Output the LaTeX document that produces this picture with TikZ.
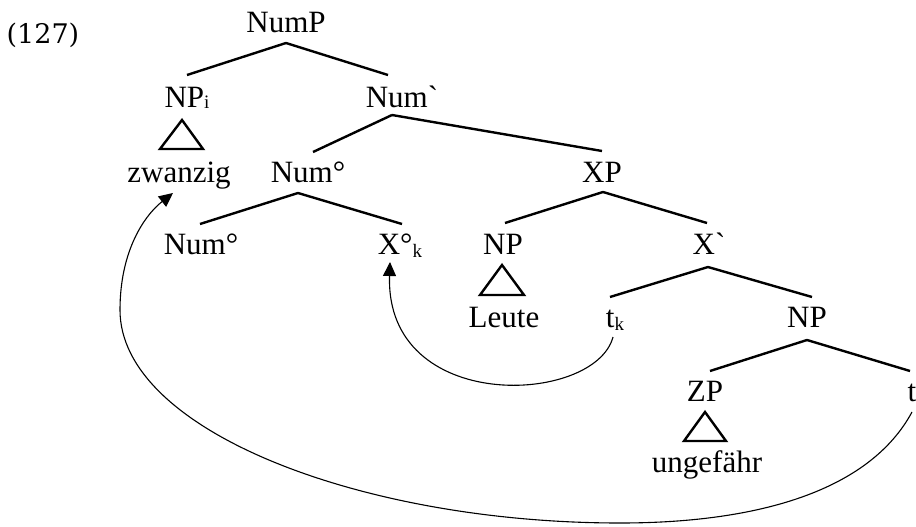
\documentclass[tikz,border=0pt]{standalone}
\usepackage{fontspec}
\setmainfont{Liberation Serif}[Ligatures=TeXOff]
\newfontfamily\exnumfont{DejaVu Serif}
\usetikzlibrary{arrows.meta,calc}
\newcommand{\lowsub}[1]{\raisebox{-3pt}{\fontsize{19}{19}\selectfont #1}}
\newcommand{\grv}{\char"60\relax}
\tikzset{
  lab/.style={anchor=base,inner sep=0pt,outer sep=0pt},
  edge/.style={line width=2.4pt},
  tri/.style={line width=2.4pt,line join=miter},
  mv/.style={line width=1.1pt,-{Triangle[length=14pt,width=13pt]}}
}
\begin{document}
\begin{tikzpicture}[x=1pt,y=-1pt,font=\fontsize{31}{36}\selectfont]
\useasboundingbox (0,0) rectangle (916,527);
% example number
\node[lab,font=\exnumfont\fontsize{27}{32}\selectfont] (exn) at (43,44) {(127)};
% nodes
\node[lab] (numP) at (286,33) {NumP};
\node[lab] (npi) at (187,107) {NP\raisebox{-1pt}{\fontsize{19}{19}\selectfont i}};
\node[lab] (numbar) at (402,107) {Num\grv};
\node[lab] (zw) at (179,182) {zwanzig};
\node[lab] (num1) at (308,182) {Num°};
\node[lab] (xp) at (602,182) {XP};
\node[lab] (num2) at (201,254) {Num°};
\node[lab] (xk) at (400,254) {X°\lowsub{k}};
\node[lab] (np1) at (503,254) {NP};
\node[lab] (xbar) at (709,254) {X\grv};
\node[lab] (leute) at (504,327) {Leute};
\node[lab] (tk) at (615,327) {t\lowsub{k}};
\node[lab] (np2) at (807,327) {NP};
\node[lab] (zp) at (705,401) {ZP};
\node[lab] (tr) at (912,401) {t};
\node[lab] (ung) at (707,472) {ungefähr};
% edges
\draw[edge] ($(numP.base)+(0,10)$) coordinate (a1) -- ($(npi.base)+(0,-32)$);
\draw[edge] (a1) -- ($(numbar.base)+(-14,-32)$);
\draw[edge] ($(numbar.base)+(-10,8)$) coordinate (a2) -- ($(num1.base)+(5,-30)$);
\draw[edge] (a2) -- ($(xp.base)+(0,-31)$);
\draw[edge] ($(num1.base)+(-10,11)$) coordinate (a3) -- ($(num2.base)+(-1,-30)$);
\draw[edge] (a3) -- ($(xk.base)+(2,-30)$);
\draw[edge] ($(xp.base)+(1,10)$) coordinate (a4) -- ($(np1.base)+(2,-31)$);
\draw[edge] (a4) -- ($(xbar.base)+(-2,-31)$);
\draw[edge] ($(xbar.base)+(-1,13)$) coordinate (a5) -- ($(tk.base)+(-5,-30)$);
\draw[edge] (a5) -- ($(np2.base)+(5,-30)$);
\draw[edge] ($(np2.base)+(0,13)$) coordinate (a6) -- ($(zp.base)+(5,-30)$);
\draw[edge] (a6) -- ($(tr.base)+(-2,-30)$);
% triangles
\draw[tri] ($(npi.base)+(-5,13)$) -- ++(-22,29) -- ++(43,0) -- cycle;
\draw[tri] ($(np1.base)+(-1,11)$) -- ++(-22,30) -- ++(44,0) -- cycle;
\draw[tri] ($(zp.base)+(0,11)$) -- ++(-21,29) -- ++(42,0) -- cycle;
% movement arrows
\draw[mv] ($(tk.base)+(-2,10)$) .. controls (595,405) and (385,415) .. ($(xk.base)+(-10,8)$);
\draw[mv] ($(tr.base)+(0,11)$) .. controls (870,490) and (760,523) .. (620,523)
  .. controls (360,523) and (120,430) .. (120,310)
  .. controls (120,250) and (145,215) .. ($(zw.base)+(-6,11)$);
\end{tikzpicture}
\end{document}
